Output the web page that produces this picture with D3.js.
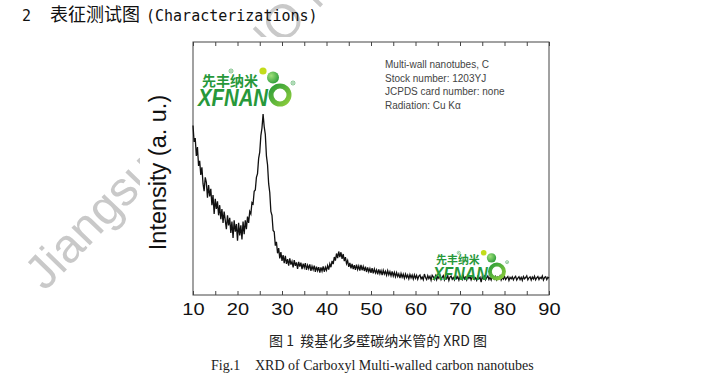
<!DOCTYPE html>
<html>
<head>
<meta charset="utf-8">
<script src="https://cdn.jsdelivr.net/npm/d3@7"></script>
<style>
  html, body { margin: 0; padding: 0; background: #fff; }
  svg { display: block; }
</style>
</head>
<body>
<svg id="chart" width="704" height="380"></svg>
<script>
// ---------------- data ----------------
const angleStart = 10;      // 2θ of first sample (degrees)
const angleStep = 0.25;     // sampling step (degrees)
const intensity = [
  67.0, 60.5, 62.0, 55.0, 58.5, 51.0, 53.0, 47.5,   // 10–11.75
  50.5, 44.0, 41.0, 46.5, 44.5, 38.5, 43.5, 39.0,   // 12–13.75
  42.0, 35.5, 39.5, 32.0, 38.0, 34.0, 37.0, 31.5,   // 14–15.75
  35.5, 30.0, 34.0, 28.5, 33.0, 29.5, 26.0, 31.5,   // 16–17.75
  27.5, 30.5, 24.5, 29.0, 22.5, 29.5, 25.0, 28.0,   // 18–19.75
  21.5, 28.5, 23.5, 27.5, 22.0, 29.0, 24.0, 29.5,   // 20–21.75
  26.0, 31.0, 28.5, 33.0, 32.0, 36.5, 36.0, 41.0,   // 22–23.75
  41.5, 46.5, 48.0, 54.0, 56.5, 63.0, 66.0, 71.5,   // 24–25.75
  66.5, 63.5, 55.0, 51.5, 44.0, 40.5, 33.0, 31.5,   // 26–27.75
  25.5, 25.0, 19.5, 21.0, 16.5, 18.5, 14.5, 17.0,   // 28–29.75
  13.5, 15.8, 12.6, 15.5, 12.3, 14.2, 11.6, 14.5,   // 30–31.75
  12.0, 13.3, 10.9, 13.8, 11.5, 12.9, 10.3, 13.1,   // 32–33.75
  11.2, 12.8, 10.2, 12.4, 10.8, 12.6, 9.9, 11.8,    // 34–35.75
  10.4, 12.1, 9.5, 11.4, 10.0, 11.6, 9.1, 11.2,     // 36–37.75
  9.6, 11.0, 8.8, 10.9, 9.4, 11.3, 9.2, 11.0,       // 38–39.75
  9.8, 11.6, 10.0, 12.3, 11.0, 13.5, 12.2, 15.0,    // 40–41.75
  13.6, 16.4, 14.6, 17.2, 15.0, 16.9, 14.3, 16.2,   // 42–43.75
  13.4, 15.0, 12.4, 13.6, 11.1, 12.7, 10.5, 12.3,   // 44–45.75
  10.2, 11.8, 9.9, 12.0, 10.1, 11.5, 9.6, 11.9,     // 46–47.75
  9.8, 11.3, 9.5, 11.2, 9.1, 10.9, 9.2, 10.5,       // 48–49.75
  8.8, 10.6, 8.6, 10.3, 8.7, 9.9, 8.2, 10.1,        // 50–51.75
  8.4, 9.7, 7.9, 9.8, 8.3, 9.4, 7.8, 9.6,           // 52–53.75
  8.0, 9.2, 7.6, 9.3, 7.5, 8.9, 7.2, 8.8,           // 54–55.75
  7.3, 8.4, 6.7, 8.5, 7.0, 8.2, 6.6, 8.3,           // 56–57.75
  6.9, 7.9, 6.4, 8.1, 6.8, 7.9, 6.3, 8.0,           // 58–59.75
  6.6, 7.8, 6.2, 7.5, 7.9, 6.4, 7.1, 6.0,           // 60–61.75
  8.3, 6.9, 6.1, 7.7, 6.5, 7.4, 5.9, 7.8,           // 62–63.75
  7.2, 6.2, 7.6, 6.0, 7.3, 6.6, 7.9, 6.1,           // 64–65.75
  7.0, 7.7, 6.0, 7.2, 6.4, 7.6, 5.8, 7.1,           // 66–67.75
  7.5, 6.2, 6.9, 6.0, 7.7, 6.5, 7.2, 5.9,           // 68–69.75
  7.4, 6.8, 6.1, 7.6, 6.3, 7.0, 5.9, 7.5,           // 70–71.75
  6.6, 7.3, 6.0, 7.1, 7.6, 6.2, 6.8, 5.8,           // 72–73.75
  7.3, 6.4, 7.0, 5.1, 7.2, 6.5, 7.4, 6.0,           // 74–75.75
  6.9, 7.5, 6.1, 7.0, 5.9, 7.4, 6.6, 6.2,           // 76–77.75
  7.3, 6.0, 7.1, 6.5, 7.5, 5.9, 6.9, 6.3,           // 78–79.75
  7.4, 6.1, 6.8, 7.3, 5.8, 7.0, 6.4, 7.2,           // 80–81.75
  6.0, 6.9, 7.4, 5.9, 6.7, 7.2, 6.1, 7.0,           // 82–83.75
  5.8, 7.3, 6.4, 6.9, 7.6, 6.0, 6.8, 7.2,           // 84–85.75
  5.9, 7.1, 6.3, 7.4, 6.0, 6.8, 7.3, 6.1,           // 86–87.75
  7.0, 6.5, 7.5, 5.9, 6.9, 7.2, 6.1, 7.0,           // 88–89.75
  6.6                                               // 90
];
const xDomain = [10, 90];
const yDomain = [0, 100];
const xTickValues = [10, 15, 20, 25, 30, 35, 40, 45, 50, 55, 60, 65, 70, 75, 80, 85, 90];
const xLabelValues = [10, 20, 30, 40, 50, 60, 70, 80, 90];
const yLabel = "Intensity (a. u.)";
const infoLines = ["Multi-wall nanotubes, C", "Stock number: 1203YJ", "JCPDS card number: none", "Radiation: Cu K\u03B1"];
const titleNum = "2";
const titleCn = "表征测试图";
const titleEn = "(Characterizations)";
const captionCn = "图 1  羧基化多壁碳纳米管的 XRD 图";
const captionEnFig = "Fig.1";
const captionEn = "XRD of Carboxyl Multi-walled carbon nanotubes";
const watermark = "Jiangsu XFNANO Materials";

// ---------------- drawing ----------------
const svg = d3.select("#chart");
const defs = svg.append("defs");
const grad = defs.append("linearGradient").attr("id", "ringGrad")
  .attr("x1", "0").attr("y1", "0").attr("x2", "1").attr("y2", "1");
grad.append("stop").attr("offset", "0%").attr("stop-color", "#2e9e3a");
grad.append("stop").attr("offset", "100%").attr("stop-color", "#8ccc3c");
const ballGrad = defs.append("radialGradient").attr("id", "ballGrad")
  .attr("cx", "0.35").attr("cy", "0.35").attr("r", "0.7");
ballGrad.append("stop").attr("offset", "0%").attr("stop-color", "#9fe07a");
ballGrad.append("stop").attr("offset", "100%").attr("stop-color", "#2e9e3a");

// watermark (behind everything)
svg.append("text")
  .attr("transform", "translate(45,292) rotate(-46)")
  .attr("font-family", "Liberation Sans, Arial, sans-serif")
  .attr("font-size", 48)
  .attr("fill", "#c9c9c9")
  .text(watermark);

// title
const title = svg.append("text").attr("y", 21).attr("fill", "#111");
title.append("tspan").attr("x", 22).attr("font-family", "DejaVu Sans Mono, monospace").attr("font-size", 15).text(titleNum);
title.append("tspan").attr("x", 50).attr("font-family", "Noto Sans CJK SC, sans-serif").attr("font-size", 18).text(titleCn);
title.append("tspan").attr("x", 146).attr("font-family", "DejaVu Sans Mono, monospace").attr("font-size", 15).text(titleEn);

// chart image background (covers watermark)
svg.append("rect").attr("x", 140).attr("y", 37).attr("width", 420).attr("height", 287).attr("fill", "#fff");

const x = d3.scaleLinear().domain(xDomain).range([193, 549]);
const y = d3.scaleLinear().domain(yDomain).range([295, 42]);

// frame
svg.append("rect")
  .attr("x", x(xDomain[0])).attr("y", y(yDomain[1]))
  .attr("width", x(xDomain[1]) - x(xDomain[0]))
  .attr("height", y(yDomain[0]) - y(yDomain[1]))
  .attr("fill", "none").attr("stroke", "#444").attr("stroke-width", 1);

// bottom axis
const axB = svg.append("g").attr("transform", `translate(0,${y(yDomain[0])})`)
  .call(d3.axisBottom(x).tickValues(xTickValues).tickSizeInner(-4).tickSizeOuter(0).tickPadding(9)
    .tickFormat(d => xLabelValues.includes(d) ? d : ""));
axB.select(".domain").remove();
axB.selectAll(".tick line").attr("stroke", "#444");
axB.selectAll(".tick text").attr("font-family", "Liberation Sans, Arial, sans-serif")
  .attr("font-size", 16).attr("fill", "#111")
  .attr("transform", "scale(1.25,1)");

// top axis
const axT = svg.append("g").attr("transform", `translate(0,${y(yDomain[1])})`)
  .call(d3.axisTop(x).tickValues(xTickValues).tickSizeInner(-4).tickSizeOuter(0).tickFormat(""));
axT.select(".domain").remove();
axT.selectAll(".tick line").attr("stroke", "#444");

// y label
svg.append("text")
  .attr("transform", `translate(166,${(y(yDomain[0]) + y(yDomain[1])) / 2 + 4}) rotate(-90)`)
  .attr("text-anchor", "middle")
  .attr("font-family", "Liberation Sans, Arial, sans-serif")
  .attr("font-size", 23.5).attr("fill", "#111")
  .text(yLabel);

// data line
const pts = intensity.map((v, i) => [angleStart + i * angleStep, v]);
svg.append("path")
  .datum(pts)
  .attr("d", d3.line().x(d => x(d[0])).y(d => y(d[1])))
  .attr("fill", "none").attr("stroke", "#111").attr("stroke-width", 1.3);

// info text
const info = svg.append("g").attr("font-family", "Liberation Sans, Arial, sans-serif")
  .attr("font-size", 10).attr("fill", "#444");
infoLines.forEach((t, i) => {
  info.append("text").attr("x", 385).attr("y", 68 + i * 13.5).text(t);
});

// logos
function regMark(g, cx, cy) {
  g.append("circle").attr("cx", cx).attr("cy", cy).attr("r", 2)
    .attr("fill", "none").attr("stroke", "#27983a").attr("stroke-width", 0.6);
  g.append("circle").attr("cx", cx).attr("cy", cy).attr("r", 0.7).attr("fill", "#27983a");
}
function drawLogo(tx, ty, s) {
  const g = svg.append("g").attr("transform", `translate(${tx},${ty}) scale(${s})`);
  g.append("text").attr("x", 4).attr("y", 16)
    .attr("font-family", "Noto Sans CJK SC, sans-serif").attr("font-weight", "bold")
    .attr("font-size", 14).attr("fill", "#27983a").text("先丰纳米");
  g.append("text").attr("x", 0).attr("y", 36)
    .attr("font-family", "Liberation Sans, Arial, sans-serif").attr("font-weight", "bold")
    .attr("font-style", "italic").attr("font-size", 23).attr("fill", "#27983a")
    .attr("textLength", 70).attr("lengthAdjust", "spacingAndGlyphs").text("XFNAN");
  g.append("circle").attr("cx", 82).attr("cy", 25).attr("r", 9)
    .attr("fill", "none").attr("stroke", "url(#ringGrad)").attr("stroke-width", 5);
  g.append("circle").attr("cx", 65).attr("cy", 1).attr("r", 3.6).attr("fill", "#c3dc1a");
  g.append("circle").attr("cx", 75).attr("cy", 7.5).attr("r", 6).attr("fill", "url(#ballGrad)");
  regMark(g, 33, 1);
  regMark(g, 95, 13);
}
drawLogo(198, 70, 1);
drawLogo(433, 252, 0.78);

// captions
svg.append("text").attr("x", 378).attr("y", 346).attr("text-anchor", "middle")
  .style("white-space", "pre")
  .attr("font-family", "Noto Sans CJK SC, sans-serif").attr("font-size", 14).attr("fill", "#222")
  .text(captionCn);
const cap2 = svg.append("text").attr("y", 370)
  .attr("font-family", "Liberation Serif, Times New Roman, serif").attr("font-size", 14).attr("fill", "#222");
cap2.append("tspan").attr("x", 211).text(captionEnFig);
cap2.append("tspan").attr("x", 255).text(captionEn);
</script>
</body>
</html>
